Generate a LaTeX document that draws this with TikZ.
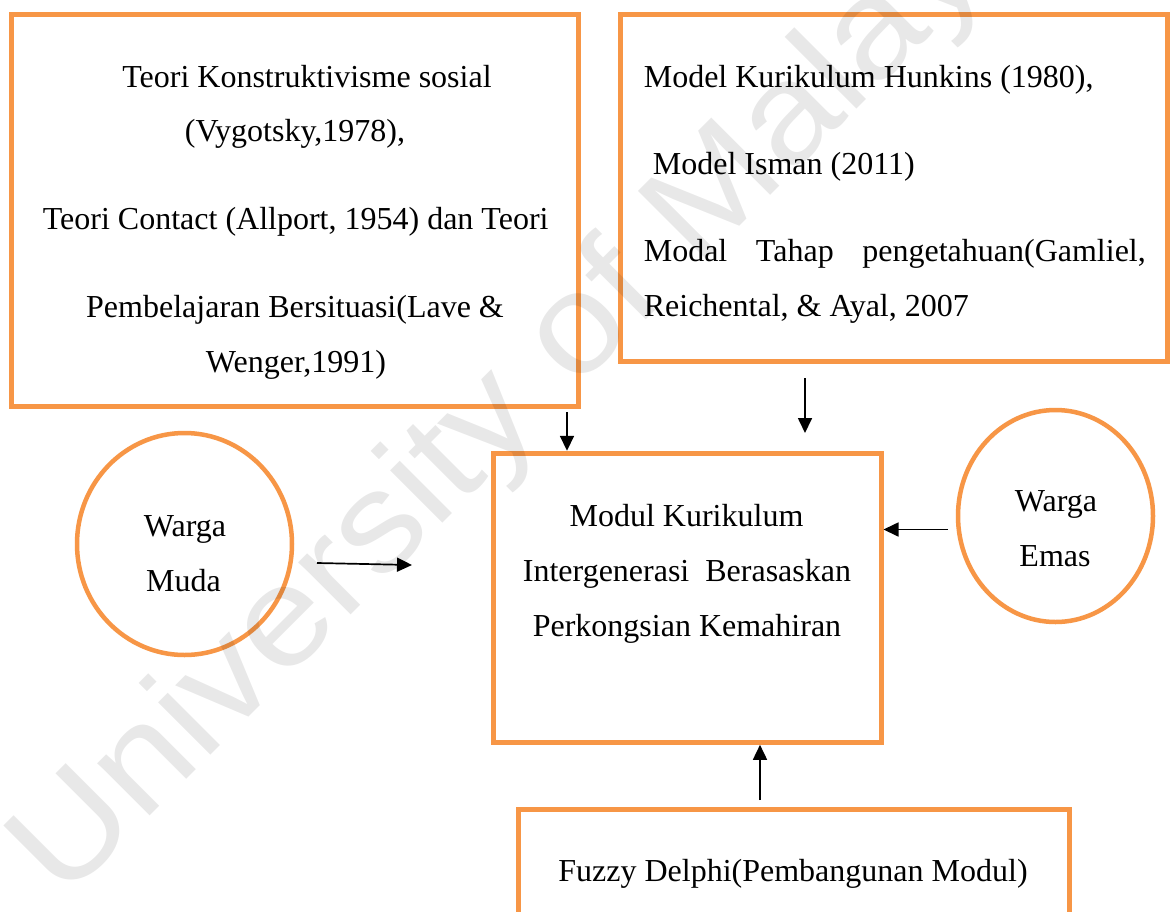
\documentclass[tikz,border=0pt]{standalone}
\usepackage{fontspec}
\usepackage{graphicx}
\setmainfont{Liberation Serif}
\newfontfamily\wmfont{Liberation Sans}
\usetikzlibrary{arrows.meta,shapes.geometric}
\definecolor{boxorange}{HTML}{F79646}
\begin{document}
\begin{tikzpicture}[x=1pt,y=-1pt,
  obox/.style={draw=boxorange, line width=5pt, rectangle, inner sep=0pt},
  ocirc/.style={draw=boxorange, line width=4.5pt, ellipse, inner sep=0pt},
  txt/.style={inner sep=0pt, font=\fontsize{32}{38}\selectfont, text=black},
  arr/.style={-{Triangle[length=15pt,width=14pt]}, line width=1.7pt, draw=black},
  wm/.style={inner sep=0pt, font=\wmfont\fontsize{140}{140}\selectfont, text=black, text opacity=0.09}]
\useasboundingbox (0,0) rectangle (1170,911);
\clip (0,0) rectangle (1170,911);
\fill[white] (0,0) rectangle (1170,911);

% boxes
\node[obox, minimum width=567, minimum height=392] (b1) at (295,210.7) {};
\node[obox, minimum width=546.5, minimum height=346.3] (b2) at (893.75,187.85) {};
\node[obox, minimum width=387.5, minimum height=289] (mid) at (687.25,597.8) {};
\node[obox, minimum width=551, minimum height=151] (fz) at (794,884.5) {};
\node[ocirc, minimum width=215, minimum height=222] (muda) at (184.5,544) {};
\node[ocirc, minimum width=195, minimum height=212] (emas) at (1055.5,516) {};

% texts box 1
\node[txt, anchor=base] (t11) at (307,87.3) {Teori Konstruktivisme sosial};
\node[txt, anchor=base] (t12) at (295,141.7) {(Vygotsky,1978),};
\node[txt, anchor=base] (t13) at (295.7,229.3) {Teori Contact (Allport, 1954) dan Teori};
\node[txt, anchor=base] (t14) at (295,317) {Pembelajaran Bersituasi(Lave \&};
\node[txt, anchor=base] (t15) at (296,372) {Wenger,1991)};

% texts box 2
\node[txt, anchor=base west] (t21) at (643.6,87) {Model Kurikulum Hunkins (1980),};
\node[txt, anchor=base west] (t22) at (652.7,174) {Model Isman (2011)};
\node[txt, anchor=base west] (t23) at (643.6,261) {\makebox[502pt][l]{Modal\hfill Tahap\hfill pengetahuan(Gamliel,}};
\node[txt, anchor=base west] (t24) at (643.6,316.7) {Reichental, \& Ayal, 2007};

% centre box
\node[txt, anchor=base] (m1) at (686.5,526) {Modul Kurikulum};
\node[txt, anchor=base] (m2) at (687,581) {Intergenerasi\ \ Berasaskan};
\node[txt, anchor=base] (m3) at (687,636) {Perkongsian Kemahiran};

% circles
\node[txt, anchor=base] (mu1) at (185,536.7) {Warga};
\node[txt, anchor=base] (mu2) at (183.5,591.7) {Muda};
\node[txt, anchor=base] (em1) at (1056,511.7) {Warga};
\node[txt, anchor=base] (em2) at (1055,566.7) {Emas};

% bottom box
\node[txt, anchor=base] (fz1) at (793,881.7) {Fuzzy Delphi(Pembangunan Modul)};

% connectors
\coordinate (a1s) at (567,412);
\draw[arr] (a1s) -- (a1s |- mid.north);
\coordinate (a2s) at (805,378);
\coordinate (a2e) at (805,433);
\draw[arr] (a2s) -- (a2e);
\coordinate (a3s) at (317,563);
\coordinate (a3e) at (412,565);
\draw[arr] (a3s) -- (a3e);
\coordinate (a4s) at (948,529.5);
\draw[arr] (a4s) -- (a4s -| mid.east);
\coordinate (a5s) at (760,800);
\draw[arr] (a5s) -- (a5s |- mid.south);

% watermark
\node[wm, rotate=45, anchor=base west] (wmk) at (63.2,902.7) {\scalebox{1.108}[1]{University of Malaya}};
\end{tikzpicture}
\end{document}
